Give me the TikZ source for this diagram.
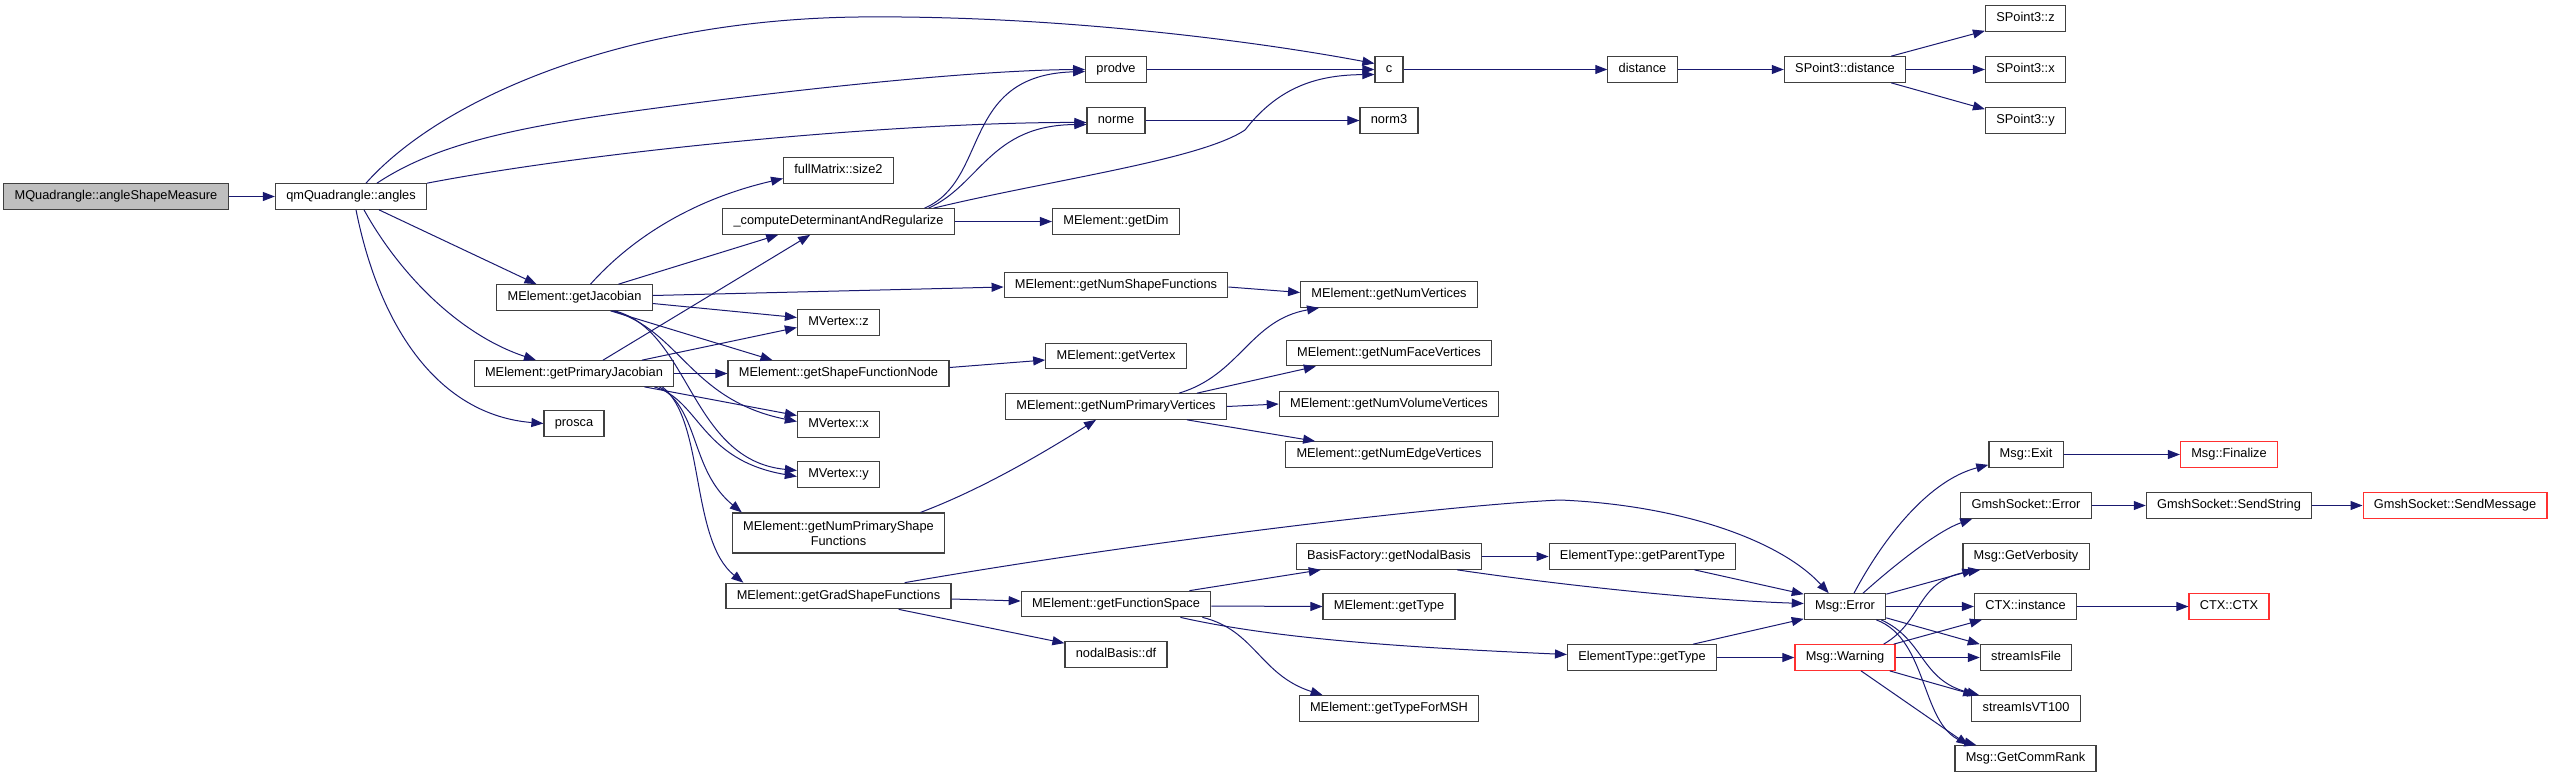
\documentclass[tikz,border=0pt]{standalone}
\usepackage{fontspec}
\setmainfont{Liberation Sans}
\usetikzlibrary{arrows.meta,calc}
\definecolor{edgeblue}{HTML}{191970}
\definecolor{nodeborder}{HTML}{404040}
\definecolor{rootfill}{HTML}{BFBFBF}
\definecolor{redborder}{HTML}{FF3030}
\begin{document}
\begin{tikzpicture}[x=1pt,y=-1pt,
  base/.style={draw=nodeborder, line width=1.2pt, fill=white, rectangle, inner xsep=10.8pt, inner ysep=0pt, font=\fontsize{12.8}{15}\selectfont},
  fn/.style={base, minimum height=25.5pt, text height=9.3pt, text depth=2.7pt},
  fntwo/.style={base, align=center, minimum height=40pt},
  rootfn/.style={fn, fill=rootfill},
  redfn/.style={fn, draw=redborder},
  e/.style={draw=edgeblue, line width=1pt, -{Triangle[length=12pt,width=9pt]}}
]
\useasboundingbox (0,0) rectangle (2553,777);
% nodes
\node[rootfn] (root) at (116,196.5) {MQuadrangle::angleShapeMeasure};
\node[fn] (angles) at (351,196.5) {qmQuadrangle::angles};
\node[fn] (getJac) at (574.5,297.5) {MElement::getJacobian};
\node[fn] (getPJ) at (574,373.5) {MElement::getPrimaryJacobian};
\node[fn] (prosca) at (574,423.5) {prosca};
\node[fn] (size2) at (838.5,170.5) {fullMatrix::size2};
\node[fn] (cdet) at (838.5,221.5) {\_computeDeterminantAndRegularize};
\node[fn] (vz) at (838.5,322.5) {MVertex::z};
\node[fn] (sfn) at (838.5,373.5) {MElement::getShapeFunctionNode};
\node[fn] (vx) at (838.5,424.5) {MVertex::x};
\node[fn] (vy) at (838.5,474.5) {MVertex::y};
\node[fntwo] (npsf) at (838.5,533) {MElement::getNumPrimaryShape\\Functions};
\node[fn] (gsf) at (838.5,596) {MElement::getGradShapeFunctions};
\node[fn] (prodve) at (1116,69.5) {prodve};
\node[fn] (norme) at (1116,120.5) {norme};
\node[fn] (getdim) at (1116,221.5) {MElement::getDim};
\node[fn] (nsf) at (1116,285) {MElement::getNumShapeFunctions};
\node[fn] (getvertex) at (1116,356) {MElement::getVertex};
\node[fn] (npv) at (1116,406.5) {MElement::getNumPrimaryVertices};
\node[fn] (fs) at (1116,604) {MElement::getFunctionSpace};
\node[fn] (df) at (1116,654.5) {nodalBasis::df};
\node[fn] (c) at (1389,69.5) {c};
\node[fn] (norm3) at (1389,120.5) {norm3};
\node[fn] (nv) at (1389,294.5) {MElement::getNumVertices};
\node[fn] (nfv) at (1389,353) {MElement::getNumFaceVertices};
\node[fn] (nvv) at (1389,404) {MElement::getNumVolumeVertices};
\node[fn] (nev) at (1389,454.5) {MElement::getNumEdgeVertices};
\node[fn] (nodal) at (1389,556.5) {BasisFactory::getNodalBasis};
\node[fn] (mtype) at (1389,606.5) {MElement::getType};
\node[fn] (msh) at (1389,708.5) {MElement::getTypeForMSH};
\node[fn] (distance) at (1642.5,69.5) {distance};
\node[fn] (parent) at (1642.5,556.5) {ElementType::getParentType};
\node[fn] (ettype) at (1642,657.5) {ElementType::getType};
\node[fn] (sdist) at (1845,69.5) {SPoint3::distance};
\node[fn] (error) at (1845,606.5) {Msg::Error};
\node[redfn] (warning) at (1845,657.5) {Msg::Warning};
\node[fn] (spz) at (2025.5,18.5) {SPoint3::z};
\node[fn] (spx) at (2025.5,69.5) {SPoint3::x};
\node[fn] (spy) at (2025.5,120.5) {SPoint3::y};
\node[fn] (exit) at (2026,454.5) {Msg::Exit};
\node[fn] (gserr) at (2026,505.5) {GmshSocket::Error};
\node[fn] (verb) at (2026,556.5) {Msg::GetVerbosity};
\node[fn] (ctxi) at (2025.5,606.5) {CTX::instance};
\node[fn] (sif) at (2026,657.5) {streamIsFile};
\node[fn] (svt) at (2026,708.5) {streamIsVT100};
\node[fn] (rank) at (2025.5,758.5) {Msg::GetCommRank};
\node[redfn] (finalize) at (2229,454.5) {Msg::Finalize};
\node[fn] (sendstr) at (2229,505.5) {GmshSocket::SendString};
\node[redfn] (sendmsg) at (2455,505.5) {GmshSocket::SendMessage};
\node[redfn] (ctx) at (2229,606.5) {CTX::CTX};
% edges
\draw[e] (root.east) -- (angles.west);
\draw[e] ($(angles.north)+(15,0)$) .. controls (440,100) and (620,20) .. (858,17) .. controls (1050,15) and (1250,40) .. ($(c.west)+(0,-6)$);
\draw[e] ($(angles.north)+(26,0)$) .. controls (430,148) and (500,130) .. (620,113) .. controls (800,88) and (980,70) .. (prodve.west);
\draw[e] (angles.north east) .. controls (600,150) and (900,122) .. ($(norme.west)+(0,2)$);
\draw[e] ($(angles.south)+(28,0)$) -- ($(getJac.north)+(-38,0)$);
\draw[e] ($(angles.south)+(13,0)$) .. controls (400,275) and (460,335) .. ($(getPJ.north)+(-38,0)$);
\draw[e] ($(angles.south)+(5,0)$) .. controls (380,330) and (440,415) .. (prosca.west);
% getJacobian
\draw[e] ($(getJac.north)+(16,0)$) .. controls (630,240) and (690,200) .. ($(size2.west)+(0,8)$);
\draw[e] ($(getJac.north)+(44,0)$) -- ($(cdet.south west)+(56,0)$);
\draw[e] ($(getJac.east)+(0,-2)$) -- ($(nsf.west)+(0,2)$);
\draw[e] ($(getJac.east)+(0,6)$) -- ($(vz.west)+(0,-5)$);
\draw[e] ($(getJac.south)+(36,0)$) -- ($(sfn.north west)+(45,0)$);
\draw[e] ($(getJac.south)+(38,0)$) .. controls (680,330) and (690,400) .. ($(vx.west)+(0,-3)$);
\draw[e] ($(getJac.south)+(40,0)$) .. controls (690,330) and (690,460) .. ($(vy.west)+(0,-4)$);
% getPrimaryJacobian
\draw[e] ($(getPJ.north)+(29,0)$) -- ($(cdet.south west)+(88,0)$);
\draw[e] ($(getPJ.north)+(68,0)$) -- ($(vz.west)+(0,5)$);
\draw[e] (getPJ.east) -- (sfn.west);
\draw[e] ($(getPJ.south east)+(-30,0)$) -- ($(vx.west)+(0,-9)$);
\draw[e] ($(getPJ.south east)+(-20,0)$) .. controls (700,400) and (700,460) .. ($(vy.west)+(0,2)$);
\draw[e] ($(getPJ.south east)+(-15,0)$) .. controls (700,410) and (690,470) .. ($(npsf.north west)+(10,0)$);
\draw[e] ($(getPJ.south east)+(-12,0)$) .. controls (705,420) and (690,540) .. ($(gsf.north west)+(18,0)$);
% computeDeterminant
\draw[e] ($(cdet.north)+(86,0)$) .. controls (990,180) and (960,75) .. ($(prodve.west)+(0,2)$);
\draw[e] ($(cdet.north)+(90,0)$) .. controls (980,185) and (990,125) .. ($(norme.west)+(0,4)$);
\draw[e] ($(cdet.north)+(95,0)$) .. controls (1050,180) and (1200,160) .. (1245,130) .. controls (1280,85) and (1320,75) .. ($(c.west)+(0,5)$);
\draw[e] (cdet.east) -- (getdim.west);
% top row
\draw[e] (prodve.east) -- (c.west);
\draw[e] (norme.east) -- (norm3.west);
\draw[e] (c.east) -- (distance.west);
\draw[e] (distance.east) -- (sdist.west);
\draw[e] ($(sdist.north east)+(-15,0)$) -- ($(spz.south west)+(0,-1)$);
\draw[e] (sdist.east) -- (spx.west);
\draw[e] ($(sdist.south east)+(-15,0)$) -- ($(spy.north west)+(0,2)$);
% middle
\draw[e] ($(nsf.east)+(0,2)$) -- ($(nv.west)+(0,-2)$);
\draw[e] ($(sfn.east)+(0,-6)$) -- ($(getvertex.west)+(0,4)$);
\draw[e] ($(npsf.north)+(82,0)$) .. controls (980,490) and (1040,455) .. ($(npv.south west)+(91,0)$);
\draw[e] ($(npv.north east)+(-48,0)$) .. controls (1240,375) and (1250,320) .. ($(nv.south west)+(19,0)$);
\draw[e] ($(npv.north east)+(-30,0)$) -- ($(nfv.south west)+(30,0)$);
\draw[e] (npv.east) -- (nvv.west);
\draw[e] ($(npv.south east)+(-40,0)$) -- ($(nev.north west)+(30,0)$);
% grad shape functions
\draw[e] ($(gsf.north east)+(-47,0)$) .. controls (1150,540) and (1450,505) .. (1560,500) .. controls (1680,505) and (1780,540) .. ($(error.north west)+(25,0)$);
\draw[e] ($(gsf.east)+(0,3)$) -- ($(fs.west)+(0,-3)$);
\draw[e] ($(gsf.south east)+(-53,0)$) -- ($(df.north west)+(0,2)$);
% function space
\draw[e] ($(fs.north east)+(-22,0)$) -- ($(nodal.south west)+(25,0)$);
\draw[e] ($(fs.east)+(0,2)$) -- (mtype.west);
\draw[e] ($(fs.south east)+(-31,0)$) .. controls (1280,640) and (1420,648) .. ($(ettype.west)+(0,-3)$);
\draw[e] ($(fs.south east)+(-9,0)$) .. controls (1255,630) and (1260,675) .. ($(msh.north west)+(24,0)$);
% element types
\draw[e] (nodal.east) -- (parent.west);
\draw[e] ($(nodal.south east)+(-25,0)$) .. controls (1560,585) and (1700,600) .. ($(error.west)+(0,-3)$);
\draw[e] ($(parent.south east)+(-42,0)$) -- ($(error.north west)+(0,1)$);
\draw[e] ($(ettype.north east)+(-24,0)$) -- ($(error.south west)+(0,-1)$);
\draw[e] (ettype.east) -- (warning.west);
% Msg::Error
\draw[e] ($(error.north)+(9,0)$) .. controls (1885,535) and (1930,480) .. ($(exit.south west)+(0,-3)$);
\draw[e] ($(error.north)+(18,0)$) .. controls (1900,560) and (1940,530) .. ($(gserr.south west)+(12,0)$);
\draw[e] ($(error.north east)+(0,1)$) -- ($(verb.south west)+(12,0)$);
\draw[e] (error.east) -- (ctxi.west);
\draw[e] ($(error.south east)+(0,-2)$) -- (sif.north west);
\draw[e] ($(error.south east)+(-5,0)$) .. controls (1925,640) and (1920,680) .. ($(svt.north west)+(8,0)$);
\draw[e] ($(error.south east)+(-10,0)$) .. controls (1930,640) and (1920,730) .. ($(rank.north west)+(22,0)$);
% Msg::Warning
\draw[e] ($(warning.north east)+(-12,0)$) .. controls (1925,620) and (1915,580) .. ($(verb.south west)+(18,0)$);
\draw[e] ($(warning.north east)+(-2,0)$) -- ($(ctxi.south west)+(8,0)$);
\draw[e] (warning.east) -- (sif.west);
\draw[e] ($(warning.south east)+(-6,0)$) -- ($(svt.north west)+(4,0)$);
\draw[e] ($(warning.south)+(16,0)$) -- ($(rank.north west)+(14,0)$);
% right
\draw[e] (exit.east) -- (finalize.west);
\draw[e] (gserr.east) -- (sendstr.west);
\draw[e] (sendstr.east) -- (sendmsg.west);
\draw[e] (ctxi.east) -- (ctx.west);
\end{tikzpicture}
\end{document}
